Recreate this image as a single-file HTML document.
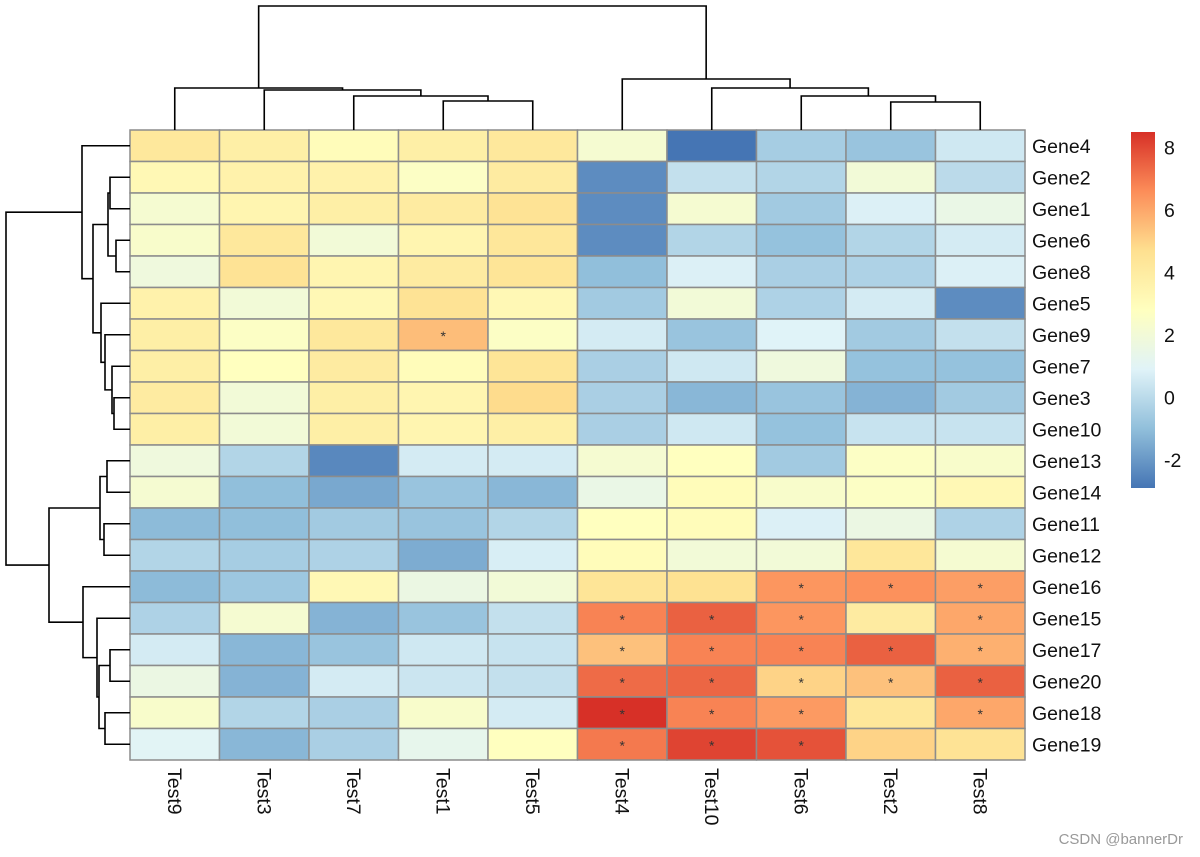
<!DOCTYPE html>
<html><head><meta charset="utf-8"><style>
html,body{margin:0;padding:0;background:#fff;width:1200px;height:857px;overflow:hidden}
svg text{font-family:"Liberation Sans",Arial,sans-serif}
</style></head><body>
<svg id="chart" width="1200" height="857" viewBox="0 0 1200 857" xmlns="http://www.w3.org/2000/svg">
<defs><linearGradient id="cbg" x1="0" y1="1" x2="0" y2="0">
<stop offset="0" stop-color="#4575B4"/><stop offset="0.1667" stop-color="#91BFDB"/><stop offset="0.3333" stop-color="#E0F3F8"/><stop offset="0.5" stop-color="#FFFFBF"/><stop offset="0.6667" stop-color="#FEE090"/><stop offset="0.8333" stop-color="#FC8D59"/><stop offset="1" stop-color="#D73027"/></linearGradient></defs>
</svg>
<script>
const colLabels=["Test9","Test3","Test7","Test1","Test5","Test4","Test10","Test6","Test2","Test8"];
const rowLabels=["Gene4","Gene2","Gene1","Gene6","Gene8","Gene5","Gene9","Gene7","Gene3","Gene10","Gene13","Gene14","Gene11","Gene12","Gene16","Gene15","Gene17","Gene20","Gene18","Gene19"];
const values=[
[4.2,3.8,3.0,3.8,4.2,2.2,-2.9,-0.5,-0.8,0.5],
[3.2,3.6,3.6,2.6,4.0,-2.3,0.2,-0.2,2.0,0.0],
[2.2,3.4,3.8,4.0,4.5,-2.3,2.2,-0.6,0.8,1.5],
[2.4,4.2,2.0,3.4,4.3,-2.3,-0.2,-0.9,-0.2,0.6],
[1.8,4.5,3.4,4.0,4.4,-1.0,0.8,-0.4,-0.3,0.8],
[3.6,2.0,3.2,4.5,3.2,-0.6,2.0,-0.3,0.6,-2.3],
[3.8,2.6,4.2,5.5,2.6,0.6,-0.8,0.9,-0.6,0.2],
[3.8,2.8,4.0,3.0,4.4,-0.4,0.5,1.8,-0.9,-0.9],
[4.0,2.0,3.8,3.4,4.8,-0.4,-1.2,-0.8,-1.3,-0.6],
[3.8,2.0,3.8,3.4,3.8,-0.4,0.5,-0.9,0.3,0.3],
[1.8,-0.2,-2.4,0.6,0.6,2.2,2.8,-0.6,2.6,2.4],
[2.2,-1.0,-1.6,-0.8,-1.2,1.5,3.0,2.4,2.6,3.2],
[-1.1,-1.0,-0.6,-0.8,-0.2,2.8,3.0,0.8,1.6,-0.3],
[-0.2,-0.5,-0.3,-1.5,0.7,3.0,2.0,2.0,4.3,2.2],
[-1.1,-0.7,3.2,1.6,2.0,4.4,4.6,6.4,6.5,6.2],
[-0.3,2.2,-1.3,-0.8,0.2,6.8,7.5,6.4,4.0,6.0],
[0.6,-1.2,-0.8,0.5,0.3,5.4,6.8,6.8,7.5,5.8],
[1.6,-1.3,0.6,0.4,0.2,7.3,7.4,5.0,5.4,7.5],
[2.4,-0.2,-0.4,2.4,0.6,8.5,6.8,6.3,4.3,6.0],
[1.0,-1.2,-0.4,1.3,2.8,7.0,8.1,7.8,5.0,4.5]];
const stars=[
[0,0,0,0,0,0,0,0,0,0],[0,0,0,0,0,0,0,0,0,0],[0,0,0,0,0,0,0,0,0,0],[0,0,0,0,0,0,0,0,0,0],[0,0,0,0,0,0,0,0,0,0],
[0,0,0,0,0,0,0,0,0,0],[0,0,0,1,0,0,0,0,0,0],[0,0,0,0,0,0,0,0,0,0],[0,0,0,0,0,0,0,0,0,0],[0,0,0,0,0,0,0,0,0,0],
[0,0,0,0,0,0,0,0,0,0],[0,0,0,0,0,0,0,0,0,0],[0,0,0,0,0,0,0,0,0,0],[0,0,0,0,0,0,0,0,0,0],
[0,0,0,0,0,0,0,1,1,1],[0,0,0,0,0,1,1,1,0,1],[0,0,0,0,0,1,1,1,1,1],[0,0,0,0,0,1,1,1,1,1],[0,0,0,0,0,1,1,1,0,1],[0,0,0,0,0,1,1,1,0,0]];
const legendTicks=[-2,0,2,4,6,8];
const vmin=-2.9, vmax=8.5;
// dendrogram merges: [left, right, heightPx]  (leaf = index)
const colTree=[[0,[1,[2,[3,4,101],96],90],88],[5,[6,[7,[8,9,102],96],88],79],6];
const rowTree=[[0,[[[1,2,110],[3,4,116],108],[5,[6,[7,[8,9,114],112],105],101],93],82],[[[10,11,107],[12,13,104],100],[14,[15,[[16,17,110],[18,19,105],99],97],83],49],6];

const svg=document.getElementById('chart');
const NS="http://www.w3.org/2000/svg";
const X0=130,Y0=130,W=895,H=630,nc=colLabels.length,nr=rowLabels.length,cw=W/nc,rh=H/nr;
const pal=[[69,117,180],[145,191,219],[224,243,248],[255,255,191],[254,224,144],[252,141,89],[215,48,39]];
function color(v){let t=(v-vmin)/(vmax-vmin);t=Math.max(0,Math.min(1,t))*6;let i=Math.min(5,Math.floor(t)),f=t-i;
const c=pal[i].map((a,k)=>Math.round(a+(pal[i+1][k]-a)*f));return `rgb(${c})`;}
function mk(tag,attrs){const e=document.createElementNS(NS,tag);for(const k in attrs)e.setAttribute(k,attrs[k]);svg.appendChild(e);return e;}
const xc=j=>X0+cw*(j+0.5), yc=i=>Y0+rh*(i+0.5);
for(let i=0;i<nr;i++)for(let j=0;j<nc;j++){
 const r=mk('rect',{x:X0+j*cw,y:Y0+i*rh,width:cw,height:rh,fill:color(values[i][j]),stroke:'#8c8c8c','stroke-width':1.5});
 
 
 if(stars[i][j]){const t=mk('text',{x:xc(j),y:yc(i)+6,'text-anchor':'middle','font-size':14,fill:'#333'});t.textContent='*';
 
 }
}
for(let i=0;i<nr;i++){const t=mk('text',{x:1032,y:yc(i)+7,'font-size':19.5,fill:'#111'});t.textContent=rowLabels[i];
 
 }
for(let j=0;j<nc;j++){const t=mk('text',{x:0,y:0,'font-size':19.5,fill:'#111',transform:`translate(${xc(j)-7},768) rotate(90)`});t.textContent=colLabels[j];
 
 }
// dendrograms
function drawTree(node,isCol,pos){
 if(typeof node==='number')return {p:pos(node),h:isCol?Y0:X0};
 const a=drawTree(node[0],isCol,pos),b=drawTree(node[1],isCol,pos),h=node[2];
 const d=isCol?`M${a.p},${a.h}V${h}H${b.p}V${b.h}`:`M${a.h},${a.p}H${h}V${b.p}H${b.h}`;
 const p=mk('path',{d:d,fill:'none',stroke:'#000','stroke-width':1.6});
 
 
 return {p:(a.p+b.p)/2,h:h};
}
drawTree(colTree,true,xc);
drawTree(rowTree,false,yc);
// legend
const LX=1131,LT=132,LB=488,ly=v=>LB-(v-vmin)/(vmax-vmin)*(LB-LT);
const lb=mk('rect',{x:LX,y:LT,width:24,height:LB-LT,fill:'url(#cbg)'});


legendTicks.forEach(v=>{const t=mk('text',{x:1164,y:ly(v)+7,'font-size':19.5,fill:'#111'});t.textContent=String(v).replace('-','-');
 
 });
const wm=mk('text',{x:1183,y:844,'font-size':15,fill:'#999','text-anchor':'end'});wm.textContent='CSDN @bannerDr';


</script>
</body></html>
